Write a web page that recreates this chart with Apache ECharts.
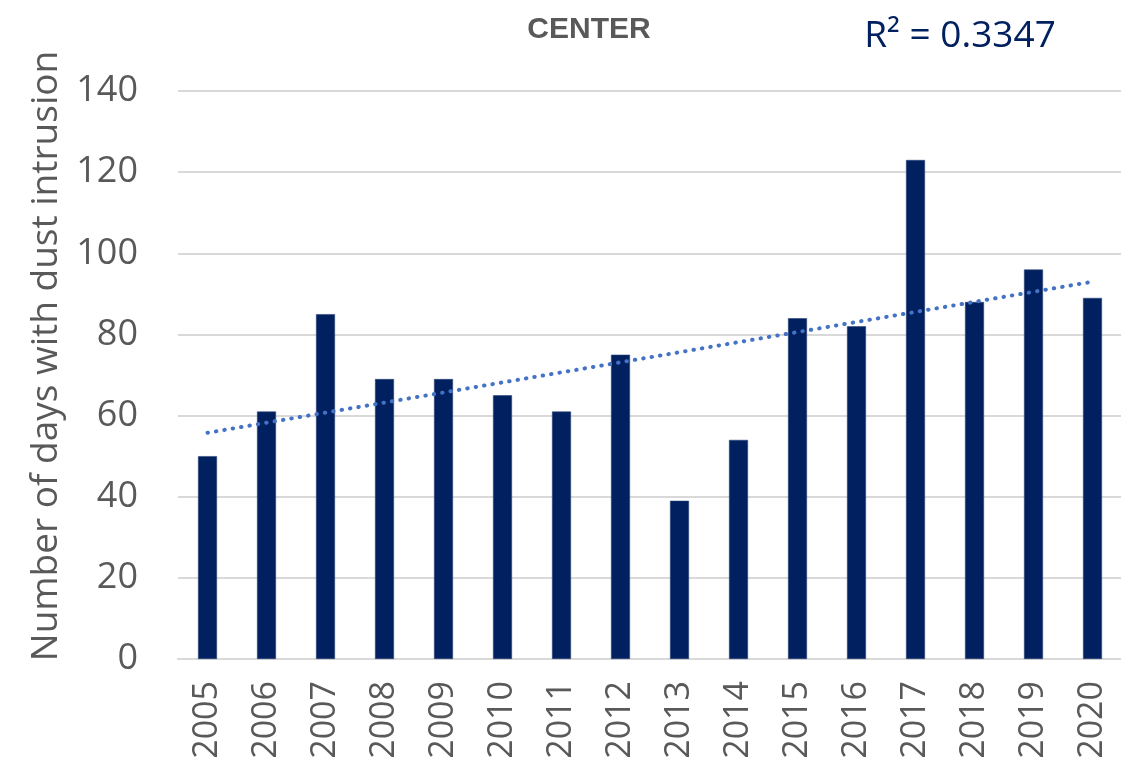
<!DOCTYPE html>
<html>
<head>
<meta charset="utf-8">
<script src="https://cdn.jsdelivr.net/npm/echarts@6/dist/echarts.min.js"></script>
<style>
html,body{margin:0;padding:0;background:#fff;}
#chart{width:1121px;height:774px;}
</style>
</head>
<body>
<div id="chart"></div>
<script>
const years = ['2005','2006','2007','2008','2009','2010','2011','2012','2013','2014','2015','2016','2017','2018','2019','2020'];
const dustDays = [50,61,85,69,69,65,61,75,39,54,84,82,123,88,96,89];
const yTicks = [0,20,40,60,80,100,120,140];
const titleText = 'CENTER';
const r2Text = 'R² = 0.3347';
const yAxisTitle = 'Number of days with dust intrusion';

// Linear trendline (least squares) computed from the data
function trend(vals){
  const n = vals.length;
  let sx=0, sy=0, sxy=0, sxx=0;
  vals.forEach((v,i)=>{sx+=i; sy+=v; sxy+=i*v; sxx+=i*i;});
  const b = (n*sxy - sx*sy)/(n*sxx - sx*sx);
  const a = (sy - b*sx)/n;
  return vals.map((v,i)=>+(a+b*i).toFixed(3));
}
const trendVals = trend(dustDays);

const chart = echarts.init(document.getElementById('chart'));
chart.setOption({
  backgroundColor:'#ffffff',
  animation:false,
  title:[
    {text:titleText, left:584, top:10, textAlign:'center',
     textStyle:{fontFamily:'Liberation Sans', fontWeight:'bold', fontSize:30, color:'#595959'}},
    {text:r2Text, left:955, top:13, textAlign:'center',
     textStyle:{fontFamily:'Open Sans', fontWeight:'normal', fontSize:37, color:'#002060'}}
  ],
  grid:{left:178, right:-1, top:91, bottom:115, containLabel:false, outerBoundsMode:'none'},
  xAxis:{
    type:'category', data:years,
    axisLine:{show:true, lineStyle:{color:'#d9d9d9', width:2}},
    axisTick:{show:false},
    axisLabel:{rotate:90, margin:22, fontFamily:'Open Sans', fontSize:34, color:'#595959'}
  },
  yAxis:{
    type:'value', min:0, max:140, interval:20,
    name:yAxisTitle, nameLocation:'middle', nameGap:92,
    nameTextStyle:{fontFamily:'Open Sans', fontSize:37, color:'#595959', padding:[0,0,0,38]},
    axisLine:{show:false}, axisTick:{show:false},
    axisLabel:{margin:40, fontFamily:'Open Sans', fontSize:36, color:'#595959',
      formatter:v=>yTicks.includes(v)?String(v):''},
    splitLine:{lineStyle:{color:'#d9d9d9', width:2}}
  },
  series:[
    {type:'bar', data:dustDays, barWidth:19,
     itemStyle:{color:'#002060', borderColor:'#2b4377', borderWidth:0.6}},
    {type:'line', data:trendVals, symbol:'none', silent:true, z:5,
     lineStyle:{color:'#4472c4', width:4, type:[0.5,8], cap:'round'}}
  ]
});
</script>
</body>
</html>
